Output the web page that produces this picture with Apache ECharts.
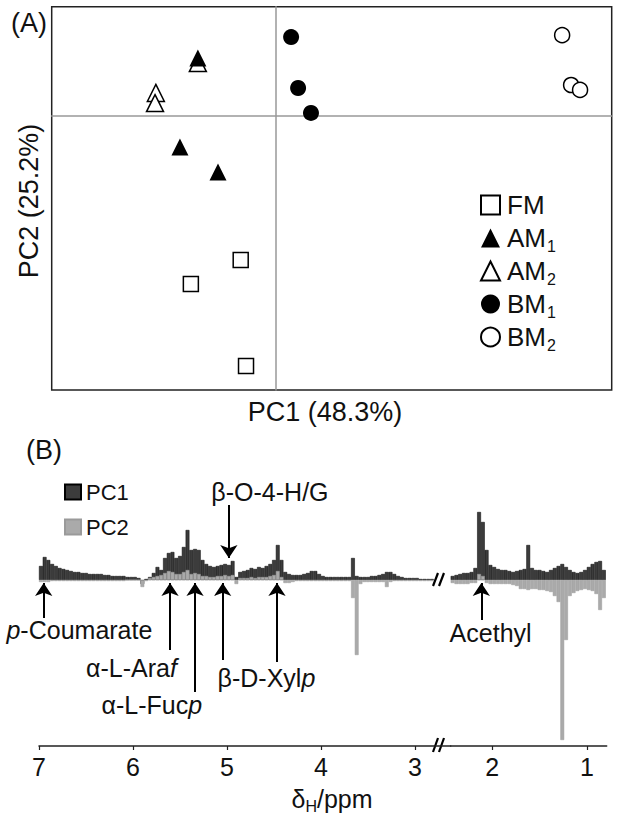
<!DOCTYPE html>
<html><head><meta charset="utf-8">
<script src="https://cdn.jsdelivr.net/npm/echarts@6/dist/echarts.min.js"></script>
<style>html,body{margin:0;padding:0;background:#fff}#c{width:619px;height:815px}</style>
</head><body><div id="c"></div>
<script>
const FONT = '"Liberation Sans", Arial, Helvetica, sans-serif';

// ---------- Panel A: PCA scores [PC1, PC2] ----------
const groupNames = ['FM', 'AM1', 'AM2', 'BM1', 'BM2'];
const scoresFM  = [[-1.25, -5.25], [-3.03, -6.13], [-1.06, -9.12]];
const scoresAM1 = [[-2.78, 2.13], [-3.42, -1.12], [-2.06, -2.04]];
const scoresAM2 = [[-2.78, 1.94], [-4.28, 0.85], [-4.31, 0.48]];
const scoresBM1 = [[0.55, 2.89], [0.80, 1.03], [1.26, 0.12]];
const scoresBM2 = [[10.23, 2.96], [10.55, 1.14], [10.87, 0.96]];

// ---------- Panel B: loadings (bucket centres in ppm) ----------
const ppmLeft = [6.98,6.94,6.90,6.86,6.82,6.78,6.74,6.70,6.66,6.62,6.58,6.54,6.50,6.46,6.42,6.38,6.34,6.30,6.26,6.22,
  6.18,6.14,6.10,6.06,6.02,5.98,5.94,5.90,5.86,5.82,5.78,5.74,5.70,5.66,5.62,5.58,5.54,5.50,5.46,5.42,
  5.38,5.34,5.30,5.26,5.22,5.18,5.14,5.10,5.06,5.02,4.98,4.94,4.90,4.86,4.82,4.78,4.74,4.70,4.66,4.62,
  4.58,4.54,4.50,4.46,4.42,4.38,4.34,4.30,4.26,4.22,4.18,4.14,4.10,4.06,4.02,3.98,3.94,3.90,3.86,3.82,
  3.78,3.74,3.70,3.66,3.62,3.58,3.54,3.50,3.46,3.42,3.38,3.34,3.30,3.26,3.22,3.18,3.14,3.10,3.06,3.02,
  2.98,2.94,2.90,2.86,2.82];
const pc1Left = [0.014,0.023,0.020,0.016,0.014,0.012,0.011,0.010,0.009,0.008,
  0.008,0.007,0.007,0.006,0.006,0.006,0.006,0.005,0.005,0.004,
  0.004,0.004,0.004,0.003,0.003,0.003,0.002,-0.004,0.001,0.003,
  0.007,0.013,0.010,0.022,0.027,0.028,0.022,0.024,0.033,0.050,
  0.030,0.031,0.030,0.020,0.016,0.014,0.013,0.014,0.015,0.016,
  0.015,0.019,0.003,0.008,0.009,0.010,0.012,0.011,0.013,0.012,
  0.014,0.016,0.020,0.035,0.020,0.008,0.006,0.005,0.005,0.005,
  0.006,0.007,0.009,0.009,0.006,0.004,0.003,0.003,0.003,0.003,
  0.003,0.003,0.003,0.022,0.004,0.003,0.003,0.003,0.004,0.004,
  0.005,0.006,0.008,0.008,0.006,0.004,0.003,0.002,0.002,0.002,
  0.002,0.001,0.001,0.001,0.001];
const pc2Left = [-0.002,-0.002,-0.002,-0.001,-0.001,-0.001,-0.001,-0.001,-0.001,-0.001,
  -0.001,-0.001,-0.001,-0.001,-0.001,-0.001,-0.001,-0.001,-0.001,-0.001,
  -0.001,-0.001,-0.001,0,0,0,0,-0.007,-0.001,0.002,
  0.003,0.004,0.005,0.007,0.009,0.008,0.006,0.006,0.008,0.010,
  0.006,0.007,0.006,0.004,0.004,0.003,0.003,0.004,0.004,0.005,
  0.004,0.005,-0.004,0.002,0.002,0.002,0.003,0.002,0.003,0.003,
  0.003,0.004,0.005,0.009,0.003,-0.003,-0.003,-0.002,-0.001,-0.001,
  -0.001,-0.001,-0.001,-0.001,-0.001,-0.001,-0.001,-0.001,-0.001,-0.001,
  -0.001,-0.001,-0.001,-0.018,-0.075,-0.004,-0.002,-0.002,-0.002,-0.002,
  -0.002,-0.002,-0.007,-0.002,-0.001,-0.001,-0.001,-0.001,-0.001,-0.001,
  -0.001,-0.001,-0.001,-0.001,-0.001];
const ppmRight = [2.42,2.38,2.34,2.30,2.26,2.22,2.18,2.14,2.10,2.06,2.02,1.98,1.94,1.90,1.86,1.82,1.78,1.74,1.70,1.66,
  1.62,1.58,1.54,1.50,1.46,1.42,1.38,1.34,1.30,1.26,1.22,1.18,1.14,1.10,1.06,1.02,0.98,0.94,0.90,0.86,0.82];
const pc1Right = [0.004,0.005,0.006,0.007,0.007,0.008,0.012,0.068,0.058,0.030,
  0.015,0.013,0.011,0.010,0.010,0.009,0.008,0.009,0.010,0.011,
  0.035,0.012,0.010,0.010,0.009,0.008,0.010,0.012,0.014,0.016,
  0.013,0.010,0.008,0.007,0.008,0.010,0.013,0.016,0.018,0.019,0.010];
const pc2Right = [-0.003,-0.004,-0.004,-0.004,-0.004,-0.003,-0.003,0.006,0.004,-0.003,
  -0.004,-0.004,-0.004,-0.004,-0.004,-0.004,-0.005,-0.006,-0.009,-0.009,
  -0.010,-0.009,-0.009,-0.010,-0.010,-0.011,-0.012,-0.016,-0.022,-0.160,
  -0.060,-0.016,-0.013,-0.011,-0.010,-0.009,-0.010,-0.011,-0.014,-0.030,-0.018];

// annotations: [label, ppm of arrow, arrow from y, arrow to y (head), label ppm, label y]
const annLeft = [
  ['{i|p}-Coumarate', 6.95, -0.038, -0.003, 6.57, -0.050],
  ['α-L-Ara{i|f}', 5.606, -0.070, -0.003, 6.016, -0.088],
  ['α-L-Fuc{i|p}', 5.34, -0.112, -0.003, 5.80, -0.125],
  ['', 5.046, -0.080, -0.003, null, null],
  ['β-D-Xyl{i|p}', 4.468, -0.082, -0.003, 4.58, -0.098],
  ['β-O-4-H/G', 4.98, 0.075, 0.022, 4.543, 0.088]
];
const annRight = [
  ['Acethyl', 2.116, -0.040, -0.003, 2.018, -0.053]
];

const zip = (xs, ys) => xs.map((x, i) => [x, ys[i]]);
const subName = n => n.replace(/(\d)$/, '{s|$1}');

const richLbl = {
  i: {fontStyle: 'italic', fontSize: 25, fontFamily: FONT, color: '#111'}
};

function annMarkers(list) {
  return {
    markLine: {
      silent: true, animation: false,
      symbol: ['none', 'arrow'], symbolSize: 13,
      lineStyle: {color: '#000', width: 2, type: 'solid'},
      label: {show: false},
      data: list.map(a => [{coord: [a[1], a[2]]}, {coord: [a[1], a[3]]}])
    },
    markPoint: {
      silent: true, animation: false,
      symbol: 'circle', symbolSize: 0,
      data: list.filter(a => a[4] !== null).map(a => ({
        coord: [a[4], a[5]], value: a[0],
        label: {show: true, position: 'inside', formatter: a[0], fontSize: 25, fontFamily: FONT, color: '#111', rich: richLbl}
      }))
    }
  };
}

function scoreSeries(name, data, symbol, size, filled) {
  return {
    type: 'scatter', name, xAxisIndex: 0, yAxisIndex: 0, data, symbol, symbolSize: size,
    itemStyle: {color: filled ? '#000' : '#fff', borderColor: '#000', borderWidth: filled ? 0 : 1.5, opacity: 1},
    emphasis: {disabled: true}, z: 3
  };
}

function barSeries(name, xi, data, color, border, bw, extra) {
  return Object.assign({
    type: 'bar', name, xAxisIndex: xi, yAxisIndex: xi, data,
    barWidth: bw, barGap: '-100%',
    itemStyle: {color, borderColor: border, borderWidth: 0.5},
    emphasis: {disabled: true}, silent: true
  }, extra || {});
}

const chart = echarts.init(document.getElementById('c'), null, {renderer: 'svg', width: 619, height: 815});

const option = {
  animation: false,
  backgroundColor: '#fff',
  textStyle: {fontFamily: FONT},
  grid: [
    {left: 51.7, top: 6.7, width: 560, height: 383.3, show: true, borderColor: '#222', borderWidth: 1.5, backgroundColor: 'transparent'},
    {left: 39, top: 470, width: 411.7, height: 276},
    {left: 450.7, top: 470, width: 156, height: 276}
  ],
  xAxis: [
    {gridIndex: 0, type: 'value', min: -8, max: 12,
      axisLine: {show: true, onZero: true, lineStyle: {color: '#999', width: 1.5}},
      axisTick: {show: false}, axisLabel: {show: false}, splitLine: {show: false}},
    {gridIndex: 1, type: 'value', min: 2.62, max: 7.0, inverse: true,
      axisLine: {show: true, onZero: false, lineStyle: {color: '#222', width: 1.5}},
      axisTick: {show: true, length: 4, customValues: [3, 4, 5, 6, 7], lineStyle: {color: '#222', width: 1.2}},
      axisLabel: {customValues: [3, 4, 5, 6, 7], fontSize: 25, color: '#111', fontFamily: FONT, margin: 8},
      splitLine: {show: false}},
    {gridIndex: 2, type: 'value', min: 0.79, max: 2.44, inverse: true,
      axisLine: {show: true, onZero: false, lineStyle: {color: '#222', width: 1.5}},
      axisTick: {show: true, length: 4, customValues: [1, 2], lineStyle: {color: '#222', width: 1.2}},
      axisLabel: {customValues: [1, 2], fontSize: 25, color: '#111', fontFamily: FONT, margin: 8},
      splitLine: {show: false}}
  ],
  yAxis: [
    {gridIndex: 0, type: 'value', min: -10, max: 4,
      axisLine: {show: true, onZero: true, lineStyle: {color: '#999', width: 1.5}},
      axisTick: {show: false}, axisLabel: {show: false}, splitLine: {show: false}},
    {gridIndex: 1, type: 'value', min: -0.166, max: 0.110, show: false},
    {gridIndex: 2, type: 'value', min: -0.166, max: 0.110, show: false}
  ],
  legend: [
    {
      data: groupNames, orient: 'vertical', left: 475, top: 184,
      itemWidth: 19, itemHeight: 19, itemGap: 1,
      selectedMode: false,
      formatter: subName,
      textStyle: {fontSize: 26, color: '#111', fontFamily: FONT, lineHeight: 32, padding: [0, 0, 0, 2],
        rich: {s: {fontSize: 16, fontFamily: FONT, color: '#111', verticalAlign: 'bottom', lineHeight: 16, padding: [16, 0, 0, 1]}}}
    },
    {
      data: ['PC1', 'PC2'], orient: 'vertical', left: 59, top: 476,
      itemWidth: 16, itemHeight: 15, itemGap: 13, icon: 'rect',
      selectedMode: false,
      textStyle: {fontSize: 22, color: '#111', fontFamily: FONT, lineHeight: 22}
    }
  ],
  series: [
    scoreSeries('FM', scoresFM, 'rect', 15, false),
    scoreSeries('AM2', scoresAM2, 'triangle', 17, false),
    scoreSeries('AM1', scoresAM1, 'triangle', 17, true),
    scoreSeries('BM1', scoresBM1, 'circle', 16, true),
    scoreSeries('BM2', scoresBM2, 'circle', 15, false),
    barSeries('PC1', 1, zip(ppmLeft, pc1Left), '#3c3c3c', '#000', 3.76, annMarkers(annLeft)),
    barSeries('PC2', 1, zip(ppmLeft, pc2Left), '#aaaaaa', '#9a9a9a', 3.76),
    barSeries('PC1', 2, zip(ppmRight, pc1Right), '#3c3c3c', '#000', 3.78, annMarkers(annRight)),
    barSeries('PC2', 2, zip(ppmRight, pc2Right), '#aaaaaa', '#9a9a9a', 3.78)
  ],
  graphic: [
    {type: 'text', x: 11, y: 23, style: {text: '(A)', fontSize: 27, fontFamily: FONT, fill: '#111', align: 'left', verticalAlign: 'middle', textAlign: 'left', textVerticalAlign: 'middle'}},
    {type: 'text', x: 26, y: 450, style: {text: '(B)', fontSize: 27, fontFamily: FONT, fill: '#111', align: 'left', verticalAlign: 'middle', textAlign: 'left', textVerticalAlign: 'middle'}},
    {type: 'text', x: 325, y: 412, style: {text: 'PC1 (48.3%)', fontSize: 27, fontFamily: FONT, fill: '#111', align: 'center', verticalAlign: 'middle', textAlign: 'center', textVerticalAlign: 'middle'}},
    {type: 'text', x: 29, y: 201, rotation: Math.PI / 2, style: {text: 'PC2 (25.2%)', fontSize: 27, fontFamily: FONT, fill: '#111', align: 'center', verticalAlign: 'middle', textAlign: 'center', textVerticalAlign: 'middle'}},
    {type: 'text', x: 332, y: 799, style: {text: 'δ{s|H}/ppm', fontSize: 25, fontFamily: FONT, fill: '#111', lineHeight: 30, align: 'center', verticalAlign: 'middle', textAlign: 'center', textVerticalAlign: 'middle',
      rich: {s: {fontSize: 16, fontFamily: FONT, fill: '#111', verticalAlign: 'bottom', lineHeight: 16, padding: [14, 0, 0, 0]}}}},
    // axis-break marks
    {type: 'line', shape: {x1: 433, y1: 586, x2: 438, y2: 573}, style: {stroke: '#000', lineWidth: 2.2}},
    {type: 'line', shape: {x1: 439, y1: 586, x2: 444, y2: 573}, style: {stroke: '#000', lineWidth: 2.2}},
    {type: 'line', shape: {x1: 433, y1: 752, x2: 438, y2: 738}, style: {stroke: '#000', lineWidth: 2.2}},
    {type: 'line', shape: {x1: 439, y1: 752, x2: 444, y2: 738}, style: {stroke: '#000', lineWidth: 2.2}}
  ]
};
chart.setOption(option);
</script>
</body></html>
